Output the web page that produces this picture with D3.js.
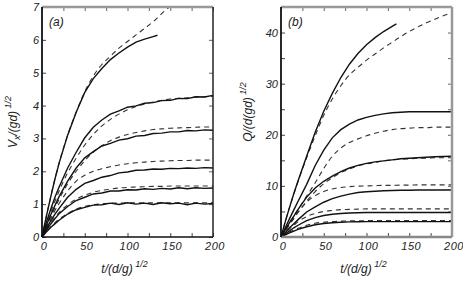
<!DOCTYPE html>
<html>
<head>
<meta charset="utf-8">
<script src="https://cdn.jsdelivr.net/npm/d3@7"></script>
<style>
    body { margin: 0; background: #fff; }
    text { font-family: "Liberation Sans", Arial, sans-serif; font-style: italic; fill: #222; }
</style>
</head>
<body>
<svg id="chart"></svg>
<script>
let svgW = 463, svgH = 281;

// shared time grid
let tGrid = [0, 5, 10, 15, 20, 30, 40, 50, 60, 70, 80, 90, 100, 110, 120, 130, 140, 150, 160, 170, 180, 190, 200];
let tShort = [0, 5, 10, 15, 20, 30, 40, 50, 60, 70, 80, 90, 100, 110, 120, 130, 135];
let tDashA1 = [0, 5, 10, 15, 20, 30, 40, 50, 60, 70, 80, 90, 100, 110, 120, 130, 140, 150];

let xTicks = [0, 50, 100, 150, 200];
let yTicksA = [0, 1, 2, 3, 4, 5, 6, 7];
let yTicksB = [0, 10, 20, 30, 40];

// panel (a): V_x, measured (solid) and model (dashed)
let a1 = [0, 0.62, 1.2, 1.75, 2.25, 3.1, 3.8, 4.4, 4.82, 5.13, 5.4, 5.6, 5.78, 5.93, 6.02, 6.1, 6.14];
let a2 = [0, 0.45, 0.83, 1.2, 1.52, 2.1, 2.58, 3.02, 3.34, 3.56, 3.74, 3.84, 3.95, 3.99, 4.07, 4.09, 4.15, 4.16, 4.22, 4.21, 4.27, 4.26, 4.31];
let a3 = [0, 0.35, 0.66, 0.95, 1.23, 1.7, 2.1, 2.41, 2.6, 2.77, 2.85, 2.95, 2.99, 3.07, 3.09, 3.15, 3.16, 3.2, 3.2, 3.24, 3.23, 3.26, 3.25];
let a4 = [0, 0.26, 0.48, 0.69, 0.87, 1.21, 1.45, 1.63, 1.72, 1.82, 1.87, 1.95, 1.98, 2.03, 2.04, 2.07, 2.06, 2.09, 2.08, 2.1, 2.09, 2.11, 2.1];
let a5 = [0, 0.2, 0.39, 0.55, 0.71, 0.93, 1.11, 1.21, 1.31, 1.34, 1.4, 1.4, 1.44, 1.43, 1.47, 1.45, 1.48, 1.46, 1.5, 1.47, 1.5, 1.48, 1.49];
let a6 = [0, 0.15, 0.29, 0.4, 0.51, 0.7, 0.83, 0.9, 0.97, 0.98, 1.03, 0.99, 1.04, 1.0, 1.03, 0.99, 1.04, 1.01, 1.03, 0.98, 1.03, 1.0, 1.02];

let a1m = [0, 0.62, 1.2, 1.75, 2.25, 3.1, 3.8, 4.42, 4.9, 5.25, 5.5, 5.75, 5.95, 6.15, 6.35, 6.55, 6.8, 7.02];
let a2m = [0, 0.4, 0.75, 1.08, 1.4, 1.95, 2.4, 2.8, 3.12, 3.38, 3.58, 3.74, 3.87, 3.97, 4.05, 4.11, 4.16, 4.2, 4.22, 4.24, 4.26, 4.27, 4.28];
let a3m = [0, 0.32, 0.6, 0.88, 1.15, 1.62, 2.0, 2.32, 2.58, 2.78, 2.93, 3.04, 3.12, 3.18, 3.23, 3.27, 3.29, 3.31, 3.32, 3.33, 3.34, 3.35, 3.35];
let a4m = [0, 0.28, 0.55, 0.8, 1.02, 1.4, 1.7, 1.88, 2.0, 2.08, 2.14, 2.19, 2.23, 2.26, 2.28, 2.3, 2.31, 2.32, 2.33, 2.33, 2.34, 2.34, 2.34];
let a5m = [0, 0.22, 0.42, 0.6, 0.75, 0.98, 1.15, 1.27, 1.36, 1.42, 1.46, 1.49, 1.51, 1.52, 1.53, 1.54, 1.54, 1.55, 1.55, 1.55, 1.55, 1.55, 1.55];
let a6m = [0, 0.16, 0.3, 0.43, 0.54, 0.72, 0.85, 0.93, 0.98, 1.01, 1.03, 1.03, 1.04, 1.04, 1.04, 1.04, 1.04, 1.04, 1.04, 1.04, 1.04, 1.04, 1.04];

// panel (b): Q, measured (solid) and model (dashed)
let b1 = [0, 3.0, 5.8, 8.5, 11.0, 15.8, 20.5, 24.6, 28.1, 31.2, 33.8, 35.9, 37.6, 39.0, 40.2, 41.2, 41.7];
let b2 = [0, 1.8, 3.6, 5.3, 7.0, 10.3, 14.0, 17.0, 19.4, 21.0, 22.1, 22.9, 23.4, 23.8, 24.1, 24.3, 24.4, 24.5, 24.5, 24.5, 24.5, 24.5, 24.5];
let b3 = [0, 1.4, 2.8, 4.1, 5.4, 7.8, 9.6, 10.9, 11.9, 12.8, 13.5, 14.0, 14.4, 14.7, 14.9, 15.1, 15.3, 15.4, 15.5, 15.6, 15.7, 15.75, 15.8];
let b4 = [0, 0.9, 1.8, 2.6, 3.4, 4.9, 5.9, 6.8, 7.5, 8.0, 8.4, 8.7, 8.85, 8.95, 9.05, 9.1, 9.15, 9.15, 9.2, 9.2, 9.2, 9.2, 9.2];
let b5 = [0, 0.6, 1.2, 1.8, 2.3, 3.2, 3.8, 4.2, 4.45, 4.6, 4.7, 4.75, 4.78, 4.8, 4.8, 4.8, 4.8, 4.8, 4.8, 4.8, 4.8, 4.8, 4.8];
let b6 = [0, 0.4, 0.8, 1.15, 1.5, 2.0, 2.4, 2.65, 2.8, 2.9, 2.95, 2.97, 3.0, 3.0, 3.0, 3.0, 3.0, 3.0, 3.0, 3.0, 3.0, 3.0, 3.0];

let b1m = [0, 3.0, 5.8, 8.4, 10.9, 15.5, 19.8, 23.8, 27.0, 29.6, 31.7, 33.2, 34.6, 35.8, 37.0, 38.1, 39.2, 40.2, 41.1, 41.9, 42.6, 43.3, 43.9];
let b2m = [0, 1.4, 2.8, 4.1, 5.4, 8.0, 10.6, 13.4, 15.8, 17.4, 18.5, 19.2, 19.8, 20.3, 20.7, 21.0, 21.2, 21.3, 21.4, 21.4, 21.5, 21.5, 21.5];
let b3m = [0, 1.2, 2.4, 3.6, 4.8, 7.0, 8.9, 10.4, 11.6, 12.6, 13.3, 13.9, 14.3, 14.6, 14.9, 15.1, 15.2, 15.3, 15.4, 15.4, 15.5, 15.5, 15.5];
let b4m = [0, 1.3, 2.6, 3.8, 4.9, 6.8, 8.1, 8.9, 9.4, 9.7, 9.85, 9.95, 10.0, 10.05, 10.1, 10.1, 10.15, 10.15, 10.2, 10.2, 10.2, 10.2, 10.2];
let b5m = [0, 0.8, 1.6, 2.3, 3.0, 4.0, 4.6, 5.0, 5.2, 5.35, 5.4, 5.45, 5.5, 5.5, 5.5, 5.5, 5.5, 5.5, 5.5, 5.5, 5.5, 5.5, 5.5];
let b6m = [0, 0.5, 0.95, 1.35, 1.7, 2.3, 2.7, 2.9, 3.0, 3.1, 3.15, 3.15, 3.2, 3.2, 3.2, 3.2, 3.2, 3.2, 3.2, 3.2, 3.2, 3.2, 3.2];

let svg = d3.select("#chart")
    .attr("width", svgW)
    .attr("height", svgH)

function zip(ts, vs) {
    return vs.map(function (v, i) { return [ts[i], v]; });
}

function drawPanel(opt) {
    let xScale = d3.scaleLinear().domain([0, 200]).range([opt.left, opt.right]);
    let yScale = d3.scaleLinear().domain([0, opt.yMax]).range([237, 7]);

    let g = svg.append("g");

    // clip so the model curve stops at the frame
    let clipId = "clip" + opt.name;
    svg.append("clipPath").attr("id", clipId)
        .append("rect")
        .attr("x", opt.left).attr("y", 7)
        .attr("width", opt.right - opt.left).attr("height", 230)

    // inward ticks, Matlab style
    g.append("g")
        .attr("transform", "translate(0,237)")
        .call(d3.axisBottom(xScale).tickValues(d3.range(0, 201, 25)).tickSizeInner(-4).tickSizeOuter(0).tickFormat(""))
        .call(function (s) { s.select(".domain").remove(); s.selectAll("line").attr("stroke", "#444"); })
    g.append("g")
        .attr("transform", "translate(0,7)")
        .call(d3.axisTop(xScale).tickValues(d3.range(0, 201, 25)).tickSizeInner(-4).tickSizeOuter(0).tickFormat(""))
        .call(function (s) { s.select(".domain").remove(); s.selectAll("line").attr("stroke", "#666"); })
    g.append("g")
        .attr("transform", "translate(" + opt.left + ",0)")
        .call(d3.axisLeft(yScale).tickValues(opt.minorY).tickSizeInner(-4).tickSizeOuter(0).tickFormat(""))
        .call(function (s) { s.select(".domain").remove(); s.selectAll("line").attr("stroke", "#444"); })
    g.append("g")
        .attr("transform", "translate(" + opt.right + ",0)")
        .call(d3.axisRight(yScale).tickValues(opt.minorY).tickSizeInner(-4).tickSizeOuter(0).tickFormat(""))
        .call(function (s) { s.select(".domain").remove(); s.selectAll("line").attr("stroke", "#666"); })

    // tick labels
    g.selectAll(".xl").data(xTicks).enter().append("text")
        .attr("x", function (d) { return xScale(d) + 2; })
        .attr("y", 250)
        .attr("text-anchor", "middle")
        .style("font-size", "11px")
        .style("letter-spacing", "0.5px")
        .text(function (d) { return d; })
    g.selectAll(".yl").data(opt.yTicks).enter().append("text")
        .attr("x", opt.left - 3)
        .attr("y", function (d) { return yScale(d) + 4; })
        .attr("text-anchor", "end")
        .style("font-size", "11px")
        .text(function (d) { return d; })

    let line = d3.line()
        .x(function (d) { return xScale(d[0]); })
        .y(function (d) { return yScale(d[1]); })

    let smooth = d3.line()
        .curve(d3.curveMonotoneX)
        .x(function (d) { return xScale(d[0]); })
        .y(function (d) { return yScale(d[1]); })

    g.selectAll(".model").data(opt.model).enter().append("path")
        .attr("clip-path", "url(#" + clipId + ")")
        .attr("d", function (d) { return smooth(d); })
        .attr("fill", "none")
        .attr("stroke", "#333")
        .attr("stroke-width", 1.1)
        .attr("stroke-dasharray", "5,4")

    g.selectAll(".data").data(opt.data).enter().append("path")
        .attr("d", function (d) { return line(d); })
        .attr("fill", "none")
        .attr("stroke", "#111")
        .attr("stroke-width", 1.4)

    // frame: dark left/bottom, grey top/right like the scan
    g.append("line").attr("x1", opt.left).attr("x2", opt.right).attr("y1", 7).attr("y2", 7)
        .attr("stroke", "#999").attr("stroke-width", 2.5)
    g.append("line").attr("x1", opt.right).attr("x2", opt.right).attr("y1", 7).attr("y2", 237)
        .attr("stroke", opt.name == "b" ? "#999" : "#222").attr("stroke-width", opt.name == "b" ? 2.5 : 1.5)
    g.append("line").attr("x1", opt.left).attr("x2", opt.right).attr("y1", 237).attr("y2", 237)
        .attr("stroke", opt.name == "b" ? "#888" : "#111").attr("stroke-width", opt.name == "b" ? 2.5 : 1.5)
    g.append("line").attr("x1", opt.left).attr("x2", opt.left).attr("y1", 7).attr("y2", 237)
        .attr("stroke", "#111").attr("stroke-width", 1.8)

    g.append("text")
        .attr("x", opt.left + 7)
        .attr("y", 26)
        .style("font-size", "12px")
        .text("(" + opt.name + ")")

    // x title
    let xt = g.append("text")
        .attr("x", (opt.left + opt.right) / 2 - 3)
        .attr("y", 273)
        .attr("text-anchor", "middle")
        .style("font-size", "12px")
    xt.append("tspan").text("t/(d/g)")
    xt.append("tspan").attr("dy", -6).style("font-size", "9px").text(" 1/2")

    // y title
    let yt = g.append("text")
        .attr("transform", "translate(" + opt.yTitleX + "," + opt.yTitleY + ") rotate(-90)")
        .attr("text-anchor", "middle")
        .style("font-size", "12px")
    yt.append("tspan").text(opt.yTitle)
    if (opt.yTitleSub) {
        yt.append("tspan").attr("dy", 3).style("font-size", "9px").text(opt.yTitleSub)
        yt.append("tspan").attr("dy", -3).text(opt.yTitleRest)
    }
    yt.append("tspan").attr("dy", -6).style("font-size", "9px").text(" 1/2")
}

drawPanel({
    name: "a",
    left: 42, right: 213, yMax: 7,
    yTicks: yTicksA, minorY: yTicksA,
    yTitle: "V", yTitleSub: "x", yTitleRest: "/(gd)",
    yTitleX: 17, yTitleY: 122,
    data: [zip(tShort, a1), zip(tGrid, a2), zip(tGrid, a3), zip(tGrid, a4), zip(tGrid, a5), zip(tGrid, a6)],
    model: [zip(tDashA1, a1m), zip(tGrid, a2m), zip(tGrid, a3m), zip(tGrid, a4m), zip(tGrid, a5m), zip(tGrid, a6m)]
})

drawPanel({
    name: "b",
    left: 281, right: 452, yMax: 45,
    yTicks: yTicksB, minorY: d3.range(0, 46, 5),
    yTitle: "Q/(d(gd)",
    yTitleX: 252, yTitleY: 112,
    data: [zip(tShort, b1), zip(tGrid, b2), zip(tGrid, b3), zip(tGrid, b4), zip(tGrid, b5), zip(tGrid, b6)],
    model: [zip(tGrid, b1m), zip(tGrid, b2m), zip(tGrid, b3m), zip(tGrid, b4m), zip(tGrid, b5m), zip(tGrid, b6m)]
})
</script>
</body>
</html>
